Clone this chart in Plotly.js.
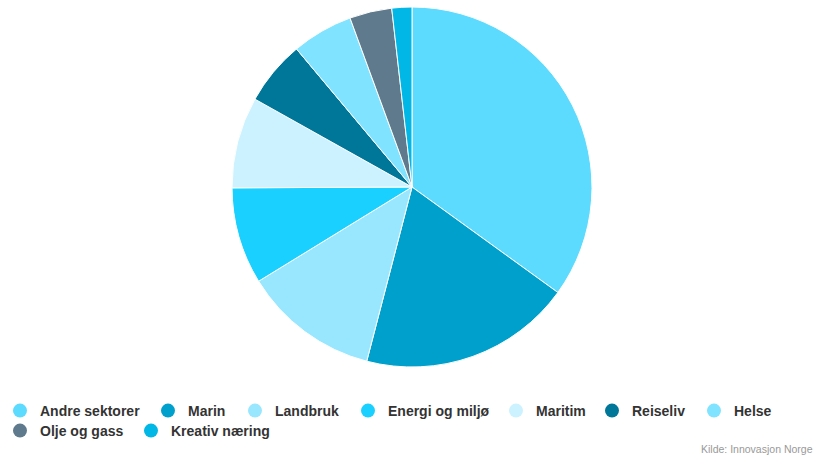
<!DOCTYPE html>
<html>
<head>
<meta charset="utf-8">
<script src="https://cdn.plot.ly/plotly-3.0.1.min.js"></script>
<style>html,body{margin:0;padding:0;background:#fff;}#chart{width:825px;height:456px;}</style>
</head>
<body>
<div id="chart"></div>
<script>
var categories = ["Andre sektorer", "Marin", "Landbruk", "Energi og miljø", "Maritim", "Reiseliv", "Helse", "Olje og gass", "Kreativ næring"];
var shares = [35.0, 19.1, 12.2, 8.7, 8.2, 5.8, 5.5, 3.8, 1.8];
var colors = ["#5CDBFF", "#00A0CC", "#99E6FF", "#1AD0FF", "#CCF2FF", "#007799", "#80E3FF", "#5F7A8C", "#00B7E6"];
var source = "Kilde: Innovasjon Norge";

// legend entry placement (marker centre x, row centre y in px)
var legendMarkerX = [19, 167, 254, 367, 515, 611, 713, 19, 150];
var legendRowY = [409, 409, 409, 409, 409, 409, 409, 429, 429];

var traces = [{
  type: "pie",
  labels: categories,
  values: shares,
  sort: false,
  direction: "clockwise",
  rotation: 0,
  textinfo: "none",
  hoverinfo: "label+percent",
  showlegend: false,
  marker: {colors: colors, line: {color: "#ffffff", width: 1}},
  domain: {x: [232/825, 592/825], y: [(456-367)/456, (456-7)/456]}
}];

var layout = {
  width: 825, height: 456,
  margin: {l: 0, r: 0, t: 0, b: 0},
  paper_bgcolor: "#ffffff", plot_bgcolor: "#ffffff",
  xaxis: {visible: false}, yaxis: {visible: false},
  showlegend: true,
  annotations: [{
    text: source, xref: "paper", yref: "paper", x: 0.988, y: -0.002,
    xanchor: "right", yanchor: "bottom", showarrow: false,
    font: {family: "Liberation Sans, Arial, sans-serif", size: 10.5, color: "#999999"}
  }]
};

categories.forEach(function(c, i) {
  var key = i === 0 ? "legend" : "legend" + (i + 1);
  traces.push({
    type: "scatter", mode: "markers", x: [null], y: [null], name: c,
    marker: {color: colors[i], size: 14, symbol: "circle"},
    showlegend: true, hoverinfo: "skip", legend: key
  });
  layout[key] = {
    orientation: "h",
    x: Math.max(0, (legendMarkerX[i] - 19) / 825), xanchor: "left",
    y: (456 - (legendRowY[i] - 14)) / 456, yanchor: "top",
    font: {family: "Liberation Sans, Arial, sans-serif", size: 14, color: "#333333", weight: "bold"},
    itemwidth: 30, bgcolor: "rgba(0,0,0,0)"
  };
});

Plotly.newPlot("chart", traces, layout, {displayModeBar: false, staticPlot: true});
</script>
</body>
</html>
